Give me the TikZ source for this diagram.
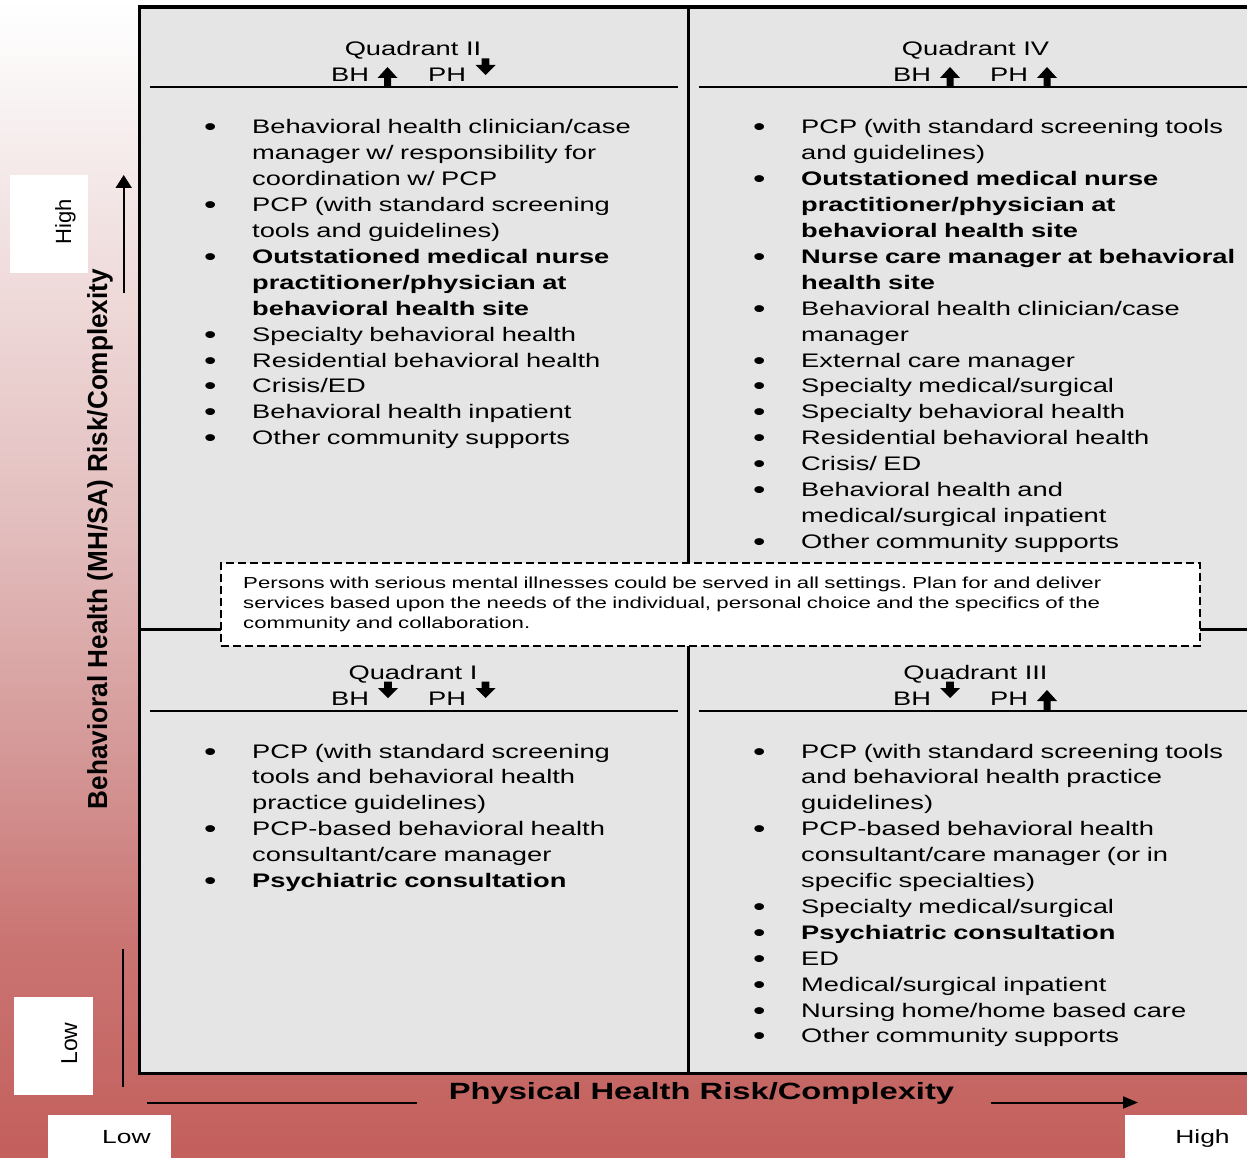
\documentclass[tikz,border=0pt]{standalone}
\usepackage{graphicx}
\usepackage{fontspec}
\setmainfont{Liberation Sans}[FakeStretch=1.392]
\newfontfamily\rotfont{Liberation Sans}[FakeStretch=0.95]
\newfontfamily\plainfont{Liberation Sans}
\usetikzlibrary{arrows.meta}
\frenchspacing
\definecolor{quadfill}{HTML}{E5E5E5}
\definecolor{bgA}{HTML}{C35F5C}
\definecolor{bgB}{HTML}{CA7573}
\definecolor{bgC}{HTML}{D49897}
\definecolor{bgD}{HTML}{E3BEBE}
\definecolor{bgE}{HTML}{EFDADA}
\definecolor{bgF}{HTML}{F6EDED}
\definecolor{bgG}{HTML}{FCFAFA}
\pgfdeclareverticalshading{bgshade}{100bp}{color(0bp)=(bgA); color(25bp)=(bgA); color(34.5bp)=(bgB); color(42.5bp)=(bgC); color(52.5bp)=(bgD); color(62.5bp)=(bgE); color(69bp)=(bgF); color(73bp)=(bgG); color(75bp)=(white); color(100bp)=(white)}
\newcommand\bitem{\makebox[48pt][l]{\raisebox{-2pt}{\scalebox{1.3}{\textbullet}}}}
\newcommand\bcont{\hspace*{48pt}}
\tikzset{
  uparr/.pic={\fill (-10,0) -- (0,-11) -- (10,0) -- (3.5,0) -- (3.5,9) -- (-3.5,9) -- (-3.5,0) -- cycle;},
  dnarr/.pic={\fill (-10,0) -- (0,10) -- (10,0) -- (3.8,0) -- (3.8,-6.5) -- (-3.8,-6.5) -- (-3.8,0) -- cycle;},
  hdr/.style={anchor=base, inner sep=0, font=\fontsize{19.6}{22}\selectfont},
  hdrl/.style={anchor=base west, inner sep=0, font=\fontsize{19.6}{22}\selectfont},
  body/.style={anchor=base west, inner sep=0, text width=560pt, align=left, font=\fontsize{19.6}{25.9}\selectfont},
  frame/.style={line width=3.5pt},
  divider/.style={line width=3.2pt},
  hline/.style={line width=1.4pt},
  axis/.style={line width=2pt},
  whitebox/.style={fill=white},
}
\begin{document}
\begin{tikzpicture}[x=1pt,y=-1pt]
\useasboundingbox (0,0) rectangle (1247,1158);
\clip (0,0) rectangle (1247,1158);
% background
\shade[shading=bgshade] (0,0) rectangle (1247,1158);
% quadrant area
\fill[quadfill] (139.5,7) rectangle (1260,1073.5);
\draw[divider] (688.7,7) -- (688.7,1073.5);
\draw[divider] (139.5,629.5) -- (1260,629.5);
\draw[frame] (1260,7) -- (139.5,7) -- (139.5,1073.5) -- (1260,1073.5);
% header rules
\draw[hline] (150,87) -- (678,87);
\draw[hline] (699,87) -- (1260,87);
\draw[hline] (150,711) -- (678,711);
\draw[hline] (699,711) -- (1260,711);
% Quadrant II
\node[hdr] (q2t) at (413,56) {Quadrant II};
\node[hdrl] (q2bh) at (331,82) {BH};
\node[hdrl] (q2ph) at (428,82) {PH};
\pic at (387.5,78) {uparr};
\pic at (485.5,65) {dnarr};
\node[body] (q2list) at (204,134) {%
\bitem Behavioral health clinician/case\\
\bcont manager w/ responsibility for\\
\bcont coordination w/ PCP\\
\bitem PCP (with standard screening\\
\bcont tools and guidelines)\\
\bitem {\bfseries Outstationed medical nurse}\\
\bcont {\bfseries practitioner/physician at}\\
\bcont {\bfseries behavioral health site}\\
\bitem Specialty behavioral health\\
\bitem Residential behavioral health\\
\bitem Crisis/ED\\
\bitem Behavioral health inpatient\\
\bitem Other community supports};
% Quadrant IV
\node[hdr] (q4t) at (975.5,56) {Quadrant IV};
\node[hdrl] (q4bh) at (893,82) {BH};
\node[hdrl] (q4ph) at (990,82) {PH};
\pic at (950,78) {uparr};
\pic at (1047,78) {uparr};
\node[body] (q4list) at (753,134) {%
\bitem PCP (with standard screening tools\\
\bcont and guidelines)\\
\bitem {\bfseries Outstationed medical nurse}\\
\bcont {\bfseries practitioner/physician at}\\
\bcont {\bfseries behavioral health site}\\
\bitem {\bfseries Nurse care manager at behavioral}\\
\bcont {\bfseries health site}\\
\bitem Behavioral health clinician/case\\
\bcont manager\\
\bitem External care manager\\
\bitem Specialty medical/surgical\\
\bitem Specialty behavioral health\\
\bitem Residential behavioral health\\
\bitem Crisis/ ED\\
\bitem Behavioral health and\\
\bcont medical/surgical inpatient\\
\bitem Other community supports};
% Quadrant I
\node[hdr] (q1t) at (413,679) {Quadrant I};
\node[hdrl] (q1bh) at (331,705) {BH};
\node[hdrl] (q1ph) at (428,705) {PH};
\pic at (388,688) {dnarr};
\pic at (485.5,688) {dnarr};
\node[body] (q1list) at (204,758) {%
\bitem PCP (with standard screening\\
\bcont tools and behavioral health\\
\bcont practice guidelines)\\
\bitem PCP-based behavioral health\\
\bcont consultant/care manager\\
\bitem {\bfseries Psychiatric consultation}};
% Quadrant III
\node[hdr] (q3t) at (975.5,679) {Quadrant III};
\node[hdrl] (q3bh) at (893,705) {BH};
\node[hdrl] (q3ph) at (990,705) {PH};
\pic at (950,688) {dnarr};
\pic at (1047,701) {uparr};
\node[body] (q3list) at (753,758) {%
\bitem PCP (with standard screening tools\\
\bcont and behavioral health practice\\
\bcont guidelines)\\
\bitem PCP-based behavioral health\\
\bcont consultant/care manager (or in\\
\bcont specific specialties)\\
\bitem Specialty medical/surgical\\
\bitem {\bfseries Psychiatric consultation}\\
\bitem ED\\
\bitem Medical/surgical inpatient\\
\bitem Nursing home/home based care\\
\bitem Other community supports};
% dashed note
\node[draw, dashed, dash pattern=on 8pt off 4pt, line width=1.8pt, fill=white, inner sep=0,
      minimum width=979pt, minimum height=83pt] (note) at (710.7,604.8) {};
\node[anchor=base west, inner sep=0, text width=960pt, align=left,
      font=\fontsize{15.95}{20}\selectfont] (notetext) at (243,588) {%
Persons with serious mental illnesses could be served in all settings. Plan for and deliver\\
services based upon the needs of the individual, personal choice and the specifics of the\\
community and collaboration.};
% vertical axis
\fill[whitebox] (9.5,175) rectangle (88,273);
\fill[whitebox] (14,997) rectangle (93,1095);
\node[rotate=90, anchor=base, inner sep=0, font=\plainfont\fontsize{22}{22}\selectfont] (hiY) at (71,221.5) {High};
\node[rotate=90, anchor=base, inner sep=0, font=\plainfont\fontsize{23}{23}\selectfont] (loY) at (77,1043.5) {Low};
\node[rotate=90, anchor=base, inner sep=0, font=\rotfont\bfseries\fontsize{27.5}{28}\selectfont] (bhAxis) at (107,539) {Behavioral Health (MH/SA) Risk/Complexity};
\coordinate (vUpS) at (123.7,293);
\coordinate (vUpE) at (123.7,175);
\coordinate (vLoS) at (123.3,949);
\coordinate (vLoE) at (123.3,1087);
\draw[axis, -{Triangle[length=13pt,width=16pt]}] (vUpS) -- (vUpE);
\draw[axis] (vLoS) -- (vLoE);
% horizontal axis
\fill[whitebox] (48,1115) rectangle (171,1160);
\fill[whitebox] (1125,1115) rectangle (1250,1160);
\node[anchor=base, inner sep=0, font=\fontsize{19}{19}\selectfont] (loX) at (126.5,1143) {Low};
\node[anchor=base, inner sep=0, font=\fontsize{19}{19}\selectfont] (hiX) at (1202.5,1143) {High};
\node[anchor=base, inner sep=0, font=\bfseries\fontsize{23.5}{24}\selectfont] (phAxis) at (701.5,1099) {Physical Health Risk/Complexity};
\coordinate (hL1) at (147,1102.5);
\coordinate (hL2) at (417,1102.5);
\coordinate (hR1) at (991,1102.5);
\coordinate (hR2) at (1138,1102.5);
\draw[axis] (hL1) -- (hL2);
\draw[axis, -{Triangle[length=15pt,width=12pt]}] (hR1) -- (hR2);
\end{tikzpicture}
\end{document}
